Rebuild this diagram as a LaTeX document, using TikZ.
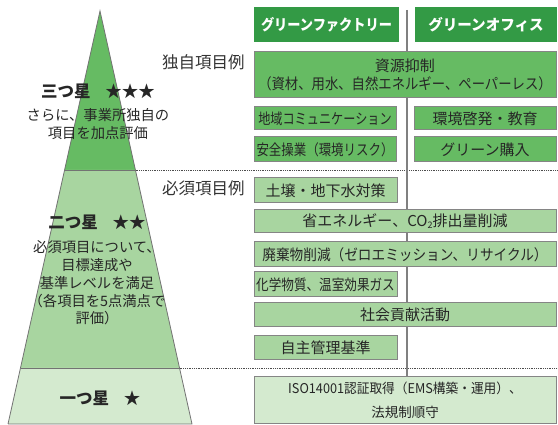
\documentclass[tikz,border=0pt]{standalone}
\usepackage{fontspec}
\setmainfont{Noto Sans CJK JP}
\newcommand\sqz[2]{\scalebox{#1}[1]{#2}}
\begin{document}
\begin{tikzpicture}[x=1pt,y=-1pt,
  every node/.style={inner sep=0pt,outer sep=0pt},
  boxa/.style={draw=bordergray,line width=1pt,fill=c1,font=\fontsize{15}{17.5}\selectfont,align=center,text=black!85},
  boxb/.style={boxa,fill=c2},
  boxc/.style={boxa,fill=c3,font=\fontsize{13.5}{24}\selectfont},
  hdr/.style={fill=hdrgreen,text=white,font=\bfseries\fontsize{15}{16}\selectfont},
  lbl/.style={font=\fontsize{16.5}{18}\selectfont,text=black!80},
  ptitle/.style={font=\bfseries\fontsize{16.5}{18}\selectfont,text=black!85},
  ptext/.style={font=\fontsize{14.3}{17.8}\selectfont,align=center,text=black!85},
  dotline/.style={densely dotted,line width=0.8pt,draw=black!70},
  edge/.style={draw=black!55,line width=0.8pt}
]
\definecolor{c1}{HTML}{66BB63}
\definecolor{c2}{HTML}{A8D5A0}
\definecolor{c3}{HTML}{D4EACF}
\definecolor{hdrgreen}{HTML}{339A45}
\definecolor{bordergray}{HTML}{858585}
\useasboundingbox (0,0) rectangle (558,425);

% pyramid
\coordinate (apex) at (100,11);
\coordinate (l1) at (64.5,170);
\coordinate (r1) at (135.5,170);
\coordinate (l2) at (20.5,368);
\coordinate (r2) at (179.5,368);
\coordinate (l3) at (8,424);
\coordinate (r3) at (192,424);
\fill[c1] (apex) -- (r1) -- (l1) -- cycle;
\fill[c2] (l1) -- (r1) -- (r2) -- (l2) -- cycle;
\fill[c3] (l2) -- (r2) -- (r3) -- (l3) -- cycle;
\draw[edge] (l3) -- (apex) -- (r3) -- (l3);
\draw[edge] (l1) -- (r1);
\draw[edge] (l2) -- (r2);

% dotted separators
\coordinate (d1) at (558,170);
\coordinate (d2) at (558,368);
\draw[dotline] (r1) -- (d1);
\draw[dotline] (r2) -- (d2);

% vertical divider
\coordinate (vt) at (407,10);
\coordinate (vb) at (407,377);
\draw[draw=black!50,line width=1.5pt] (vt) -- (vb);

% pyramid text
\node[ptitle] (t3) at (98,91) {三つ星\hspace{0.9em}★★★};
\node[ptext] (d3) at (98,124) {さらに、事業所独自の\\項目を加点評価};
\node[ptitle] (t2) at (97,222) {二つ星\hspace{0.9em}★★};
\node[ptext] (d2t) at (97,283) {必須項目について、\\目標達成や\\基準レベルを満足\\（各項目を5点満点で\\評価）};
\node[ptitle] (t1) at (100,398) {一つ星\hspace{0.9em}★};

% side labels
\node[lbl,anchor=west] (la) at (162,62) {独自項目例};
\node[lbl,anchor=west] (lb) at (162,188) {必須項目例};

% headers
\node[hdr,minimum width=145pt,minimum height=35pt] (h1) at (326.5,24.5) {\sqz{0.88}{グリーンファクトリー}};
\node[hdr,minimum width=142pt,minimum height=35pt] (h2) at (486,24.5) {\sqz{0.97}{グリーンオフィス}};

% unique items
\node[boxa,minimum width=302pt,minimum height=46pt] (b1) at (405,75) {資源抑制\\\sqz{0.89}{（資材、用水、自然エネルギー、ペーパーレス）}};
\node[boxa,minimum width=142pt,minimum height=23pt] (b2) at (325,118.5) {\sqz{0.81}{地域コミュニケーション}};
\node[boxa,minimum width=142pt,minimum height=23pt] (b3) at (485,118.5) {環境啓発・教育};
\node[boxa,minimum width=142pt,minimum height=25pt] (b4) at (325,149.5) {\sqz{0.83}{安全操業（環境リスク）}};
\node[boxa,minimum width=142pt,minimum height=25pt] (b5) at (485,149.5) {グリーン購入};

% required items
\node[boxb,minimum width=143pt,minimum height=25pt] (c1n) at (325.5,190.5) {土壌・地下水対策};
\node[boxb,minimum width=302pt,minimum height=23pt] (c2n) at (405,221.5) {省エネルギー、CO\raisebox{-0.25ex}{\fontsize{9}{9}\selectfont 2}排出量削減};
\node[boxb,minimum width=302pt,minimum height=25pt] (c3n) at (405,254.5) {\sqz{0.91}{廃棄物削減（ゼロエミッション、リサイクル）}};
\node[boxb,minimum width=143pt,minimum height=25pt] (c4n) at (325.5,284.5) {\sqz{0.84}{化学物質、温室効果ガス}};
\node[boxb,minimum width=302pt,minimum height=24pt] (c5n) at (405,315) {社会貢献活動};
\node[boxb,minimum width=143pt,minimum height=24pt] (c6n) at (325.5,348) {自主管理基準};

% base
\node[boxc,minimum width=302pt,minimum height=47pt] (iso) at (405,400.5) {\sqz{0.94}{ISO14001認証取得（EMS構築・運用）、}\\法規制順守};
\end{tikzpicture}
\end{document}
